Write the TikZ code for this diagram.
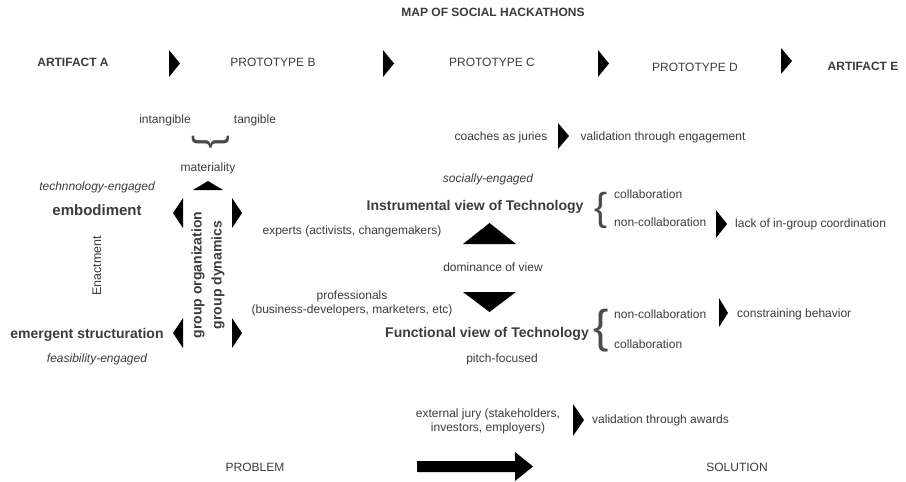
\documentclass[tikz,border=0pt]{standalone}
\usepackage{fontspec}
\setmainfont{Liberation Sans}
\definecolor{txt}{HTML}{3C3C3C}
\definecolor{brc}{HTML}{4A4A4A}
\begin{document}
\begin{tikzpicture}[x=1pt,y=-1pt,
  lbl/.style={inner sep=0pt, text height=0.716em, text depth=0pt, text=txt, font=\fontsize{12}{14}\selectfont},
  bld/.style={lbl, font=\fontsize{12}{14}\selectfont\bfseries},
  head/.style={lbl, font=\fontsize{14}{16}\selectfont\bfseries},
  itl/.style={lbl, font=\fontsize{12}{14}\selectfont\itshape},
  brace/.style={inner sep=0pt, text=brc},
  marker/.style={fill=black}]
\useasboundingbox (0,0) rectangle (906,482);
\fill[white] (0,0) rectangle (906,482);

% title and top row
\node[bld] (title) at (493,13) {MAP OF SOCIAL HACKATHONS};
\node[bld] (artA) at (73,63) {ARTIFACT A};
\node[lbl] (protB) at (273,63) {PROTOTYPE B};
\node[lbl] (protC) at (492,63) {PROTOTYPE C};
\node[lbl] (protD) at (695,68) {PROTOTYPE D};
\node[bld] (artE) at (863,67) {ARTIFACT E};
\fill[marker] (169,50) -- (180,63.5) -- (169,77) -- cycle;
\fill[marker] (383,50) -- (394,63.5) -- (383,77) -- cycle;
\fill[marker] (598,50) -- (609,63.5) -- (598,77) -- cycle;
\fill[marker] (781,48) -- (792,61) -- (781,74) -- cycle;

% materiality
\node[lbl] (intang) at (165,120) {intangible};
\node[lbl] (tang) at (255,120) {tangible};
\node[brace, rotate=-90, font=\fontsize{40}{40}\selectfont] (hbrace) at (211,142) {\}};
\node[lbl] (mat) at (208,168) {materiality};
\fill[marker] (193,190) -- (208,181) -- (223,190) -- cycle;

% coaches
\node[lbl] (coach) at (501,137) {coaches as juries};
\fill[marker] (558,123) -- (569,136) -- (558,149) -- cycle;
\node[lbl] (valeng) at (663,137) {validation through engagement};

% left column
\node[itl] (techeng) at (97,187) {technnology-engaged};
\node[head, font=\fontsize{15}{17}\selectfont\bfseries] (embod) at (97,212) {embodiment};
\node[lbl, rotate=90, font=\fontsize{12.5}{14}\selectfont] (enact) at (97.5,266) {Enactment};
\node[head] (emerg) at (87,335) {emergent structuration};
\node[itl] (feas) at (97,359) {feasibility-engaged};
\node[head, rotate=90] (gorg) at (198,275) {group organization};
\node[head, rotate=90] (gdyn) at (218,275) {group dynamics};
\fill[marker] (183,198) -- (173,213) -- (183,228) -- cycle;
\fill[marker] (232,198) -- (242,213) -- (232,228) -- cycle;
\fill[marker] (183,318) -- (173,333) -- (183,348) -- cycle;
\fill[marker] (232,318) -- (242,333) -- (232,348) -- cycle;

% centre
\node[itl] (soceng) at (488,179) {socially-engaged};
\node[head] (instr) at (475,207) {Instrumental view of Technology};
\node[lbl] (experts) at (352,231) {experts (activists, changemakers)};
\fill[marker] (463,244) -- (489.5,223) -- (516,244) -- cycle;
\node[lbl] (dom) at (493,268) {dominance of view};
\fill[marker] (463,292) -- (489.5,312) -- (516,292) -- cycle;
\node[lbl] (prof1) at (352,296) {professionals};
\node[lbl] (prof2) at (352,310) {(business-developers, marketers, etc)};
\node[head] (func) at (487,334) {Functional view of Technology};
\node[lbl] (pitch) at (502,359) {pitch-focused};

% right: instrumental
\node[brace, font=\fontsize{39}{39}\selectfont] (ibrace) at (601,210) {\{};
\node[lbl, anchor=west] (icol) at (614,195) {collaboration};
\node[lbl, anchor=west] (inon) at (614,223) {non-collaboration};
\fill[marker] (716,210) -- (727,224) -- (716,238) -- cycle;
\node[lbl, anchor=west] (lack) at (735,224) {lack of in-group coordination};

% right: functional
\node[brace, font=\fontsize{46}{46}\selectfont] (fbrace) at (601,331) {\{};
\node[lbl, anchor=west] (fnon) at (614,315) {non-collaboration};
\node[lbl, anchor=west] (fcol) at (614,345) {collaboration};
\fill[marker] (719,298) -- (728,313) -- (719,327) -- cycle;
\node[lbl, anchor=west] (constr) at (737,314) {constraining behavior};

% external jury
\node[lbl] (ext1) at (488,414) {external jury (stakeholders,};
\node[lbl] (ext2) at (488,428) {investors, employers)};
\fill[marker] (573,404) -- (584,420) -- (573,436) -- cycle;
\node[lbl, anchor=west] (valaw) at (592,420) {validation through awards};

% bottom
\node[lbl] (prob) at (255,468) {PROBLEM};
\node[lbl] (sol) at (737,468) {SOLUTION};
\fill[marker] (417,461) -- (515,461) -- (515,452) -- (533,466.5) -- (515,481) -- (515,472) -- (417,472) -- cycle;
\end{tikzpicture}
\end{document}
